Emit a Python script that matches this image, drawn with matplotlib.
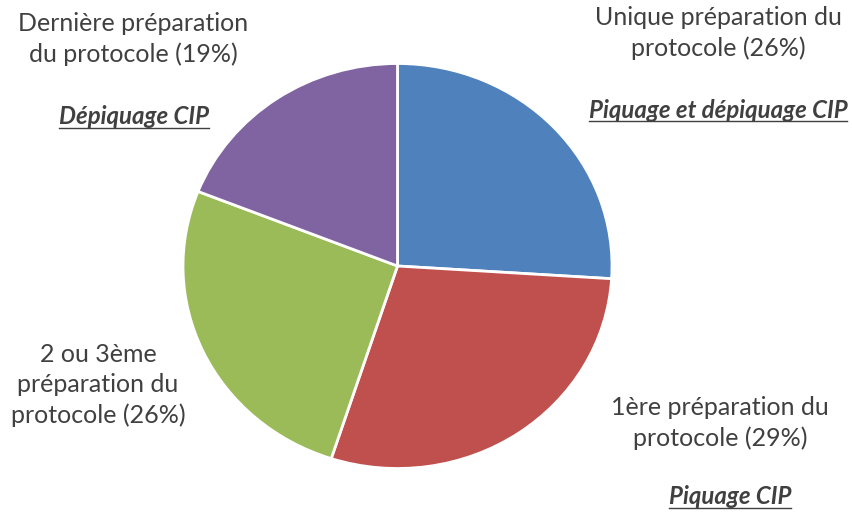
import matplotlib
matplotlib.use("Agg")
import matplotlib.pyplot as plt
from matplotlib.lines import Line2D

# data
labels = ["Unique préparation du\nprotocole (26%)",
          "1ère préparation du\nprotocole (29%)",
          "2 ou 3ème\npréparation du\nprotocole (26%)",
          "Dernière préparation\ndu protocole (19%)"]
values = [26, 29, 26, 19]
colors = ["#4F81BD", "#C0504D", "#9BBB59", "#8064A2"]
groups = ["Piquage et dépiquage CIP", "Piquage CIP", None, "Dépiquage CIP"]

W, H = 853, 513
cx, cy, rx, ry = 397.5, 266, 214.5, 202.5

fig = plt.figure(figsize=(W / 100, H / 100), dpi=100)
ax = fig.add_axes([0, 0, 1, 1])
ax.pie(values, colors=colors, startangle=90, counterclock=False, radius=1,
       wedgeprops=dict(edgecolor="white", linewidth=2))
ax.set_aspect("auto")
ax.set_xlim(-cx / rx, (W - cx) / rx)
ax.set_ylim(-(H - cy) / ry, cy / ry)
ax.axis("off")

font = "Lato"
txt_col = "#404040"

# label positions in pixels (center x, center y)
label_pos = [(718, 33), (720, 423), (98, 385), (133, 39)]
group_pos = [(718, 110), (730, 497), None, (134, 117)]

for lab, (x, y) in zip(labels, label_pos):
    fig.text(x / W, 1 - y / H, lab, ha="center", va="center", fontsize=18,
             family=font, color=txt_col, linespacing=1.38)

group_texts = []
for g, p in zip(groups, group_pos):
    if g is None:
        continue
    t = fig.text(p[0] / W, 1 - p[1] / H, g, ha="center", va="center",
                 fontsize=17.3, family=font, color=txt_col,
                 fontweight="bold", fontstyle="italic")
    group_texts.append(t)

# underline the group titles
fig.canvas.draw()
r = fig.canvas.get_renderer()
for t in group_texts:
    bb = t.get_window_extent(r)
    yl = bb.y0 + 1
    fig.add_artist(Line2D([bb.x0 / W, bb.x1 / W], [yl / H, yl / H],
                          transform=fig.transFigure, color=txt_col, linewidth=1))

fig.savefig("out.png", dpi=100)
